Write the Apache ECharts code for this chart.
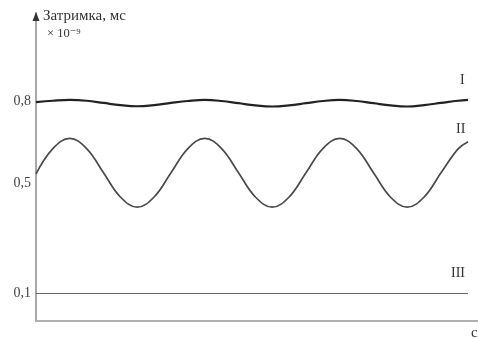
<!DOCTYPE html>
<html>
<head>
<meta charset="utf-8">
<script src="https://cdn.jsdelivr.net/npm/echarts@6/dist/echarts.min.js"></script>
<style>
html,body{margin:0;padding:0;background:#fff;}
#chart{width:478px;height:338px;}
</style>
</head>
<body>
<div id="chart"></div>
<script>
// time axis (arbitrary units, one oscillation period = 1)
var timePoints = [0,0.125,0.25,0.375,0.5,0.625,0.75,0.875,1,1.125,1.25,1.375,1.5,1.625,1.75,1.875,2,2.125,2.25,2.375,2.5,2.625,2.75,2.875,3,3.125,3.2];
// curve I – delay ≈ 0.8 with small ripple
var curveI = [0.796,0.801,0.804,0.801,0.793,0.785,0.781,0.785,0.793,0.800,0.804,0.800,0.792,0.784,0.780,0.784,0.792,0.800,0.804,0.800,0.792,0.784,0.780,0.785,0.793,0.801,0.804];
// curve II – delay oscillating around 0.5
var curveII = [0.535,0.627,0.664,0.627,0.539,0.451,0.414,0.451,0.539,0.627,0.664,0.627,0.539,0.451,0.414,0.451,0.539,0.627,0.664,0.627,0.539,0.451,0.414,0.451,0.539,0.625,0.652];
// curve III – constant delay 0.1
var curveIII = [0.1,0.1,0.1,0.1,0.1,0.1,0.1,0.1,0.1,0.1,0.1,0.1,0.1,0.1,0.1,0.1,0.1,0.1,0.1,0.1,0.1,0.1,0.1,0.1,0.1,0.1,0.1];
var yTickValues = [0.1, 0.5, 0.8];
var seriesNames = ['I', 'II', 'III'];
var yAxisTitle = 'Затримка, мс';
var yAxisScale = '× 10⁻⁹';
var xAxisTitle = 'c';

function pairs(ys){ return timePoints.map(function(t,i){ return [t, ys[i]]; }); }

var chart = echarts.init(document.getElementById('chart'), null, {renderer:'canvas'});
var serif = '"Liberation Serif", "DejaVu Serif", serif';
chart.setOption({
  animation: false,
  backgroundColor: '#fff',
  grid: {left: 36, right: 0, top: 13, bottom: 17},
  xAxis: {
    type: 'value', min: 0, max: 3.274,
    axisLine: {show: true, onZero: false, lineStyle: {color: '#b0b0b0', width: 2}},
    axisTick: {show: false}, axisLabel: {show: false}, splitLine: {show: false}
  },
  yAxis: {
    type: 'value', min: 0, max: 1.12,
    axisLine: {show: true, onZero: false, lineStyle: {color: '#a8a8a8', width: 2}},
    axisTick: {show: false},
    splitLine: {show: false},
    axisLabel: {
      customValues: yTickValues,
      formatter: function(v){ return String(v).replace('.', ','); },
      fontFamily: serif, fontSize: 14, color: '#444', margin: 5
    }
  },
  series: [
    {name: seriesNames[0], type: 'line', data: pairs(curveI), smooth: 0.4, showSymbol: false,
     lineStyle: {color: '#222', width: 2.2}},
    {name: seriesNames[1], type: 'line', data: pairs(curveII), smooth: 0.4, showSymbol: false,
     lineStyle: {color: '#4a4a4a', width: 1.7}},
    {name: seriesNames[2], type: 'line', data: pairs(curveIII), showSymbol: false,
     lineStyle: {color: '#666', width: 1.2}}
  ],
  graphic: [
    {type: 'polygon', shape: {points: [[36,12],[32.5,21],[39.5,21]]}, style: {fill: '#333'}, z: 10},
    {type: 'text', left: 43, top: 9, style: {text: yAxisTitle, font: '15px ' + serif, fill: '#333'}},
    {type: 'text', left: 47, top: 27, style: {text: yAxisScale, font: '12.5px ' + serif, fill: '#333'}},
    {type: 'text', left: 460, top: 73, style: {text: seriesNames[0], font: '14px ' + serif, fill: '#333'}},
    {type: 'text', left: 456, top: 122, style: {text: seriesNames[1], font: '14px ' + serif, fill: '#333'}},
    {type: 'text', left: 451, top: 266, style: {text: seriesNames[2], font: '14px ' + serif, fill: '#333'}},
    {type: 'text', left: 471, top: 326, style: {text: xAxisTitle, font: '15px ' + serif, fill: '#333'}}
  ]
});
</script>
</body>
</html>
